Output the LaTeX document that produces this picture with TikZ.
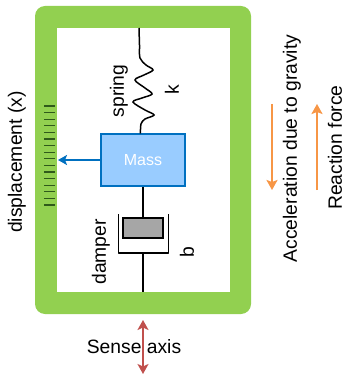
\documentclass[tikz,border=0pt]{standalone}
\usepackage{fontspec}
\setmainfont{Liberation Sans}
\usetikzlibrary{arrows.meta}
\definecolor{framegreen}{HTML}{92D050}
\definecolor{massfill}{HTML}{99CCFF}
\definecolor{massline}{HTML}{0070C0}
\definecolor{orangearrow}{HTML}{F79646}
\definecolor{redarrow}{HTML}{C0504D}
\definecolor{tickgreen}{HTML}{2F5A1A}
\tikzset{
 lbl/.style={font=\fontsize{19.3}{22}\selectfont,text=black,inner sep=0pt},
 vlbl/.style={lbl,rotate=90},
 bigarrow/.style={line width=2.5pt,-{Stealth[length=10pt,width=11pt,inset=2pt]}},
 mech/.style={line width=1.5pt,black},
}
\begin{document}
\begin{tikzpicture}[x=1pt,y=-1pt]
\useasboundingbox (0,0) rectangle (345,374);
% frame
\fill[framegreen,rounded corners=10pt] (35,6) rectangle (251,314);
\fill[white] (57,28) rectangle (230,292);
% ticks
\foreach \i in {0,...,15}{\draw[tickgreen,line width=1.1pt] (44,{106+\i*6.6}) -- (55,{106+\i*6.6});}
\coordinate (topanchor) at (139,28);
\coordinate (botanchor) at (143,292);
% mass
\node[draw=massline,fill=massfill,line width=1.5pt,minimum width=84pt,minimum height=52pt,inner sep=0pt,text=white,font=\fontsize{16}{19}\selectfont] (mass) at (143,160) {Mass};
\coordinate (scale) at (58,160);
\draw[massline,line width=2pt,-{Stealth[length=9pt,width=10pt,inset=2pt]}] (mass.west) -- (scale);
% spring
\draw[mech] plot[smooth,tension=0.55] coordinates {(139,28) (139.5,45) (140,58) (146,65) (153,70) (144,75) (135,80) (145,88) (152,94) (142,98) (133,102) (145,110) (154,115) (145,119) (141,124) (140.5,133.5)};
% damper
\node[draw=black,fill=black!35,line width=1.5pt,minimum width=40pt,minimum height=20pt,inner sep=0pt] (piston) at (143,228) {};
\draw[mech] (mass.south -| piston) -- (piston.north);
\coordinate (cylbase) at (143,253);
\draw[mech,line join=round] (118.5,214) -- (118.5,253) -- (168.5,253) -- (168.5,214);
\draw[mech] (cylbase) -- (botanchor);
% labels
\node[vlbl] (spring) at (119,91) {spring};
\node[vlbl] (k) at (172,90) {k};
\node[vlbl] (damper) at (101,252) {damper};
\node[vlbl] (b) at (187,252) {b};
\node[vlbl] (disp) at (17,162) {displacement (x)};
\node[lbl] (sense) at (134,347) {Sense axis};
\node[vlbl] (accel) at (292,148.5) {Acceleration due to gravity};
\node[vlbl] (react) at (335,147.5) {Reaction force};
% arrows
\coordinate (a1) at (272,104); \coordinate (a2) at (272,190);
\coordinate (r1) at (317,190); \coordinate (r2) at (317,104);
\draw[orangearrow,bigarrow] (a1) -- (a2);
\draw[orangearrow,bigarrow] (r1) -- (r2);
\coordinate (s1) at (143,320); \coordinate (s2) at (143,374);
\draw[redarrow,line width=2.2pt,{Stealth[length=10pt,width=11pt,inset=2.5pt]}-{Stealth[length=10pt,width=11pt,inset=2.5pt]}] (s1) -- (s2);
\end{tikzpicture}
\end{document}
